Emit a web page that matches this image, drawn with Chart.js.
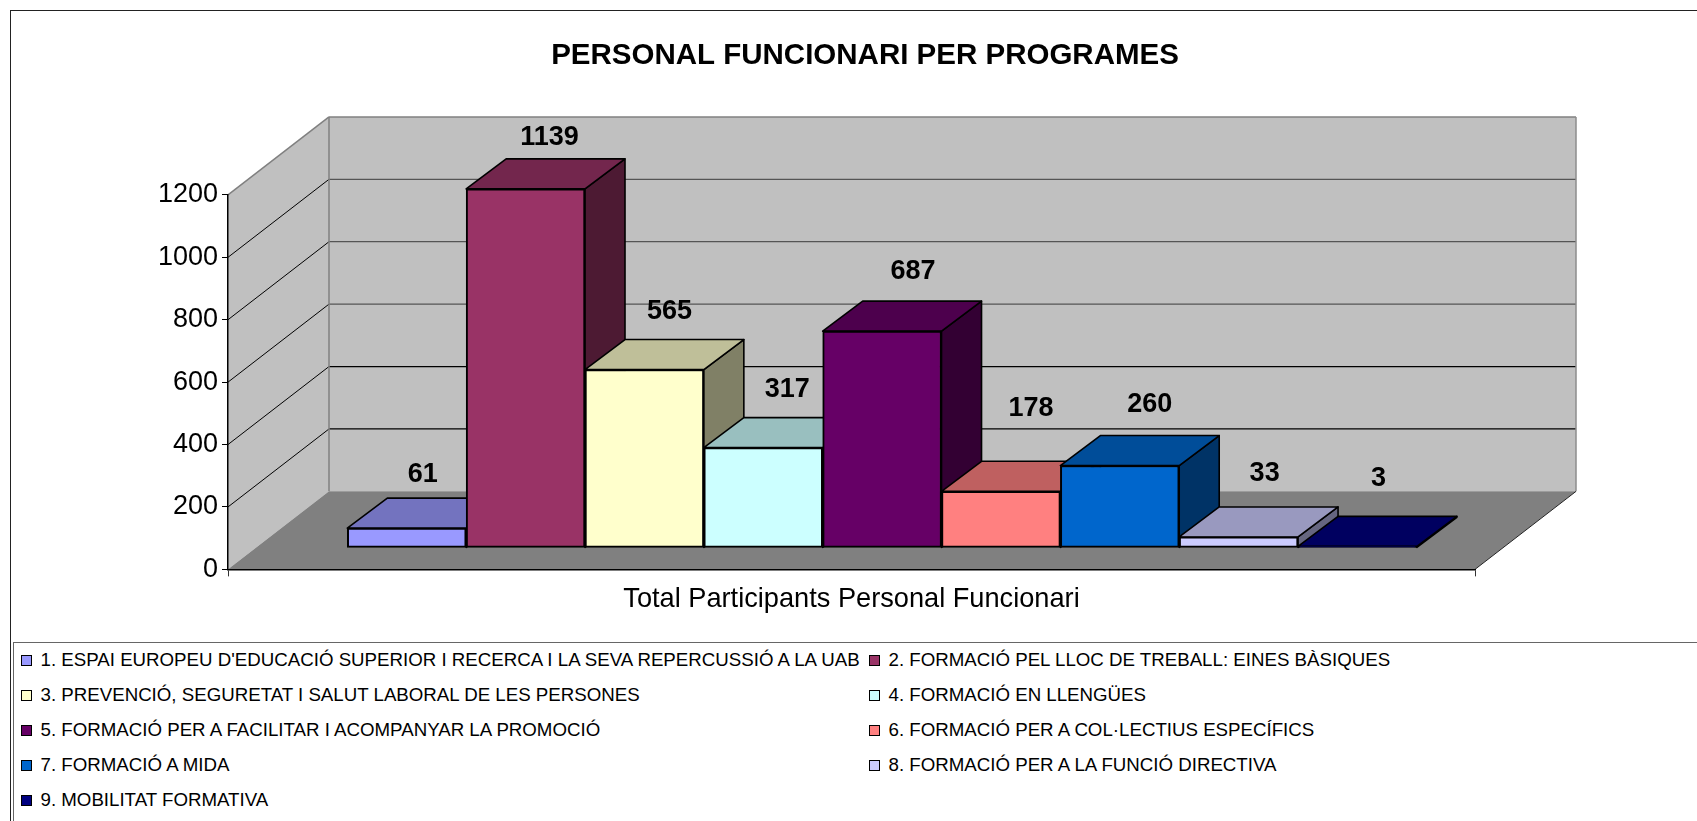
<!DOCTYPE html>
<html lang="ca">
<head>
    <meta charset="UTF-8">
    <title>Personal funcionari per programes</title>
    <script src="https://cdn.jsdelivr.net/npm/chart.js"></script>
    <style>
        html, body { margin: 0; height: 100%; overflow: hidden; background: #fff; }
        body { font-family: "Liberation Sans", Arial, sans-serif; }
        #frame {
            position: absolute; left: 10px; top: 10px; width: 1720px; height: 840px;
            border-left: 1.5px solid #222; border-top: 1.5px solid #222;
        }
        #chart { position: absolute; left: 0; top: 0; }
        #legend {
            position: absolute; left: 13px; top: 642px; width: 1720px; height: 200px;
            border-left: 1.5px solid #666; border-top: 1.5px solid #666;
            display: grid; grid-template-columns: 848px auto; grid-auto-rows: 34.9px;
            padding-left: 7px; font-size: 18.7px; color: #000; background: #fff;
        }
        .item { display: flex; align-items: center; white-space: nowrap; }
        .swatch {
            width: 9px; height: 9px; margin-right: 8.5px; border: 1.5px solid #000; flex: none;
        }
    </style>
</head>
<body>
    <div id="frame"></div>
    <canvas id="chart" width="1697" height="642"></canvas>
    <div id="legend"></div>

    <script>
        const titleText = "PERSONAL FUNCIONARI PER PROGRAMES";
        const categoryLabel = "Total Participants Personal Funcionari";
        const programs = [
            "1. ESPAI EUROPEU D'EDUCACIÓ SUPERIOR I RECERCA I LA SEVA REPERCUSSIÓ A LA UAB",
            "2. FORMACIÓ PEL LLOC DE TREBALL: EINES BÀSIQUES",
            "3. PREVENCIÓ, SEGURETAT I SALUT LABORAL DE LES PERSONES",
            "4. FORMACIÓ EN LLENGÜES",
            "5. FORMACIÓ PER A FACILITAR I ACOMPANYAR LA PROMOCIÓ",
            "6. FORMACIÓ PER A COL·LECTIUS ESPECÍFICS",
            "7. FORMACIÓ A MIDA",
            "8. FORMACIÓ PER A LA FUNCIÓ DIRECTIVA",
            "9. MOBILITAT FORMATIVA"
        ];
        const participants = [61, 1139, 565, 317, 687, 178, 260, 33, 3];
        const yTicks = [0, 200, 400, 600, 800, 1000, 1200];

        const colors = ["#9999FF", "#993366", "#FFFFCC", "#CCFFFF", "#660066", "#FF8080", "#0066CC", "#CCCCFF", "#000080"];
        // label nudges relative to the back top edge of each bar
        const labelDx = [16, 24, 25, 24, 31, 30, 30, 26, 21];
        const labelDy = [-24, -21, -28, -28, -30, -53, -31, -33, -38];

        // box depth of the plot and of the bars, in pixels
        const wallDx = 101, wallDy = -78;
        const barDx = 40, barDy = -30;

        function shade(hex, f) {
            let n = parseInt(hex.slice(1), 16);
            let r = Math.round((n >> 16) * f), g = Math.round(((n >> 8) & 255) * f), b = Math.round((n & 255) * f);
            return `rgb(${r},${g},${b})`;
        }

        function poly(ctx, pts, fill, stroke, width) {
            ctx.beginPath();
            pts.forEach((p, i) => i ? ctx.lineTo(p[0], p[1]) : ctx.moveTo(p[0], p[1]));
            ctx.closePath();
            if (fill) { ctx.fillStyle = fill; ctx.fill(); }
            if (stroke) { ctx.strokeStyle = stroke; ctx.lineWidth = width; ctx.lineJoin = "round"; ctx.stroke(); }
        }

        function line(ctx, x1, y1, x2, y2, color, width) {
            ctx.beginPath();
            ctx.moveTo(x1, y1);
            ctx.lineTo(x2, y2);
            ctx.strokeStyle = color;
            ctx.lineWidth = width;
            ctx.stroke();
        }

        const walls = {
            id: "walls",
            beforeDraw(chart) {
                let ctx = chart.ctx, a = chart.chartArea, y = chart.scales.y;
                let l = a.left, r = a.right, t = a.top, b = a.bottom;
                ctx.save();
                poly(ctx, [[l + wallDx, t + wallDy], [r + wallDx, t + wallDy], [r + wallDx, b + wallDy], [l + wallDx, b + wallDy]], "#C0C0C0");
                poly(ctx, [[l, t], [l + wallDx, t + wallDy], [l + wallDx, b + wallDy], [l, b]], "#C0C0C0");
                poly(ctx, [[l, b], [l + wallDx, b + wallDy], [r + wallDx, b + wallDy], [r, b]], "#808080");
                yTicks.slice(1, -1).forEach(v => {
                    let py = y.getPixelForValue(v);
                    line(ctx, l, py, l + wallDx, py + wallDy, "#000", 1);
                    line(ctx, l + wallDx, py + wallDy, r + wallDx, py + wallDy, v < 600 ? "#000" : "#555", 1.2);
                });
                line(ctx, l, t, l + wallDx, t + wallDy, "#808080", 1.5);
                line(ctx, l + wallDx, t + wallDy, r + wallDx, t + wallDy, "#808080", 1.5);
                line(ctx, l + wallDx, t + wallDy, l + wallDx, b + wallDy, "#808080", 1.5);
                line(ctx, r + wallDx, t + wallDy, r + wallDx, b + wallDy, "#8c8c8c", 1.5);
                line(ctx, r, b, r + wallDx, b + wallDy, "#222", 1);
                ctx.restore();
            }
        };

        // top and side faces go under all the front faces, which the library draws
        const barFaces = {
            id: "barFaces",
            beforeDatasetsDraw(chart) {
                let ctx = chart.ctx;
                ctx.save();
                chart.getDatasetMeta(0).data.forEach((bar, i) => {
                    let { x, y, base, width } = bar.getProps(["x", "y", "base", "width"], true);
                    let x0 = x - width / 2, x1 = x + width / 2;
                    poly(ctx, [[x1, y], [x1 + barDx, y + barDy], [x1 + barDx, base + barDy], [x1, base]], shade(colors[i], 0.5), "#000", 1.6);
                    poly(ctx, [[x0, y], [x0 + barDx, y + barDy], [x1 + barDx, y + barDy], [x1, y]], shade(colors[i], 0.75), "#000", 1.6);
                });
                ctx.restore();
            },
            afterDatasetsDraw(chart) {
                let ctx = chart.ctx;
                ctx.save();
                ctx.font = "bold 27px 'Liberation Sans'";
                ctx.fillStyle = "#000";
                ctx.textAlign = "center";
                ctx.textBaseline = "middle";
                chart.getDatasetMeta(0).data.forEach((bar, i) => {
                    let { x, y } = bar.getProps(["x", "y"], true);
                    ctx.fillText(participants[i], x + labelDx[i], y + barDy + labelDy[i]);
                });
                ctx.restore();
            }
        };

        new Chart(document.getElementById("chart"), {
            type: "bar",
            data: {
                datasets: [{
                    label: categoryLabel,
                    data: participants.map((v, i) => ({ x: i + 1, y: v })),
                    xAxisID: "x",
                    yAxisID: "yBars",
                    backgroundColor: colors,
                    borderColor: "#000",
                    borderWidth: 2,
                    borderSkipped: false,
                    barPercentage: 1,
                    categoryPercentage: 1,
                    clip: false
                }]
            },
            options: {
                responsive: false,
                animation: false,
                layout: { padding: { left: 33, right: 0, top: 0, bottom: 26 } },
                plugins: {
                    legend: { display: false },
                    tooltip: { enabled: false },
                    title: {
                        display: true,
                        text: titleText,
                        color: "#000",
                        font: { family: "'Liberation Sans'", size: 29.5, weight: "bold", lineHeight: 1.2 },
                        padding: { top: 38.5, bottom: 121 }
                    }
                },
                scales: {
                    x: {
                        type: "linear",
                        offset: false,
                        min: -0.504,
                        max: 9.989,
                        afterBuildTicks(s) { s.ticks = [{ value: s.min }, { value: s.max }]; },
                        ticks: { display: false },
                        grid: { offset: false, drawOnChartArea: false, tickLength: 7, color: "#333" },
                        border: { color: "#000", width: 1.5 },
                        title: {
                            display: true,
                            text: categoryLabel,
                            color: "#000",
                            font: { family: "'Liberation Sans'", size: 27.2, lineHeight: 1.2 },
                            padding: { top: 7, bottom: 0 }
                        }
                    },
                    y: {
                        min: 0,
                        max: 1200,
                        afterFit(s) { s.width = 195; },
                        afterBuildTicks(s) { s.ticks = yTicks.map(v => ({ value: v })); },
                        ticks: {
                            color: "#000",
                            padding: 4,
                            font: { family: "'Liberation Sans'", size: 27 },
                            callback: v => String(v)
                        },
                        grid: { drawOnChartArea: false, tickLength: 6, color: "#000" },
                        border: { color: "#000", width: 1.5 }
                    },
                    // same box as y, shifted so the bars stand on the floor behind the front edge
                    yBars: { display: false, min: -70, max: 1120 },
                    // empty axis that keeps room for the wall depth and leaves the title centred on the page
                    spacer: {
                        position: "right",
                        display: true,
                        afterFit(s) { s.width = 222; },
                        ticks: { display: false },
                        grid: { display: false },
                        border: { display: false }
                    }
                }
            },
            plugins: [walls, barFaces]
        });

        let legend = document.getElementById("legend");
        programs.forEach((name, i) => {
            let item = document.createElement("div");
            item.className = "item";
            let swatch = document.createElement("span");
            swatch.className = "swatch";
            swatch.style.background = colors[i];
            item.appendChild(swatch);
            item.appendChild(document.createTextNode(name));
            legend.appendChild(item);
        });
    </script>
</body>
</html>
